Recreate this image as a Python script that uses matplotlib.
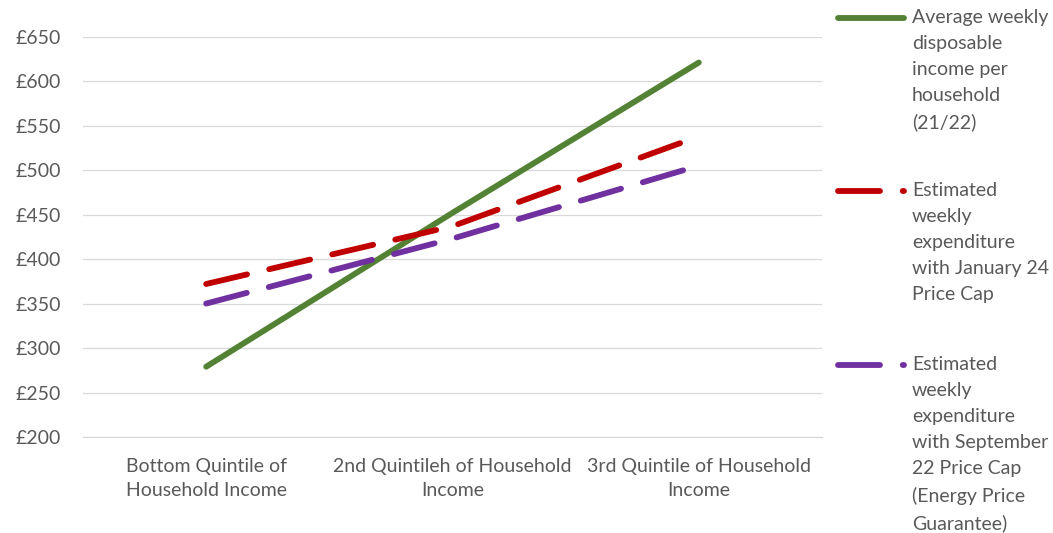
import numpy as np
import matplotlib
matplotlib.use("Agg")
import matplotlib.pyplot as plt
from matplotlib.lines import Line2D

plt.rcParams['font.family'] = ['Lato', 'DejaVu Sans']

categories = ["Bottom Quintile of\nHousehold Income",
              "2nd Quintileh of Household\nIncome",
              "3rd Quintile of Household\nIncome"]
income = [279, 452, 621]
exp_jan24 = [372, 437, 538]
exp_sep22 = [350, 423, 505]
yticks = [200, 250, 300, 350, 400, 450, 500, 550, 600, 650]

labels = ["Average weekly\ndisposable\nincome per\nhousehold\n(21/22)",
          "Estimated\nweekly\nexpenditure\nwith January 24\nPrice Cap",
          "Estimated\nweekly\nexpenditure\nwith September\n22 Price Cap\n(Energy Price\nGuarantee)"]
colors = ["#548235", "#C00000", "#7030A0"]
series = [income, exp_jan24, exp_sep22]
styles = ["solid", "dash", "dash"]

grey = "#595959"
fs = 14
W, H = 1053, 533
fig = plt.figure(figsize=(W / 100, H / 100), dpi=100)
ax = fig.add_axes([83 / W, 1 - 437 / H, (822 - 83) / W, (437 - 36.7) / H])

x = np.arange(len(categories))
lw = 4.2
dash = (7.2, 3.9)
for vals, c, st in zip(series, colors, styles):
    if st == "solid":
        ax.plot(x, vals, color=c, lw=lw, solid_capstyle='round')
    else:
        ax.plot(x, vals, color=c, lw=lw, dashes=dash, dash_capstyle='round')

ax.set_xlim(-0.5, 2.5)
ax.set_ylim(200, 650)
ax.set_yticks(yticks)
ax.set_yticklabels(["£%d" % v for v in yticks])
ax.set_xticks(x)
ax.set_xticklabels(categories)
for t in ax.get_xticklabels():
    t.set_linespacing(1.5)
ax.yaxis.grid(True, color="#d9d9d9", lw=0.9)
ax.set_axisbelow(True)
for s in ["top", "right", "left"]:
    ax.spines[s].set_visible(False)
ax.spines["bottom"].set_color("#d9d9d9")
ax.spines["bottom"].set_linewidth(0.9)
ax.tick_params(axis='both', length=0, labelsize=fs, labelcolor=grey)
ax.tick_params(axis='y', pad=16)
ax.tick_params(axis='x', pad=15)

# legend on the right, drawn by hand
tops = [18, 191, 365]
for lab, c, st, yy in zip(labels, colors, styles, tops):
    yf = 1 - yy / H
    ln = Line2D([838 / W, 904 / W], [yf, yf], transform=fig.transFigure,
                color=c, lw=lw, solid_capstyle='round', dash_capstyle='round')
    if st == "dash":
        ln.set_dashes(dash)
    fig.add_artist(ln)
    fig.text(912 / W, yf + 9 / H, lab, fontsize=fs, color=grey, va='top',
             linespacing=1.64, transform=fig.transFigure)

fig.savefig("out.png", dpi=100)
